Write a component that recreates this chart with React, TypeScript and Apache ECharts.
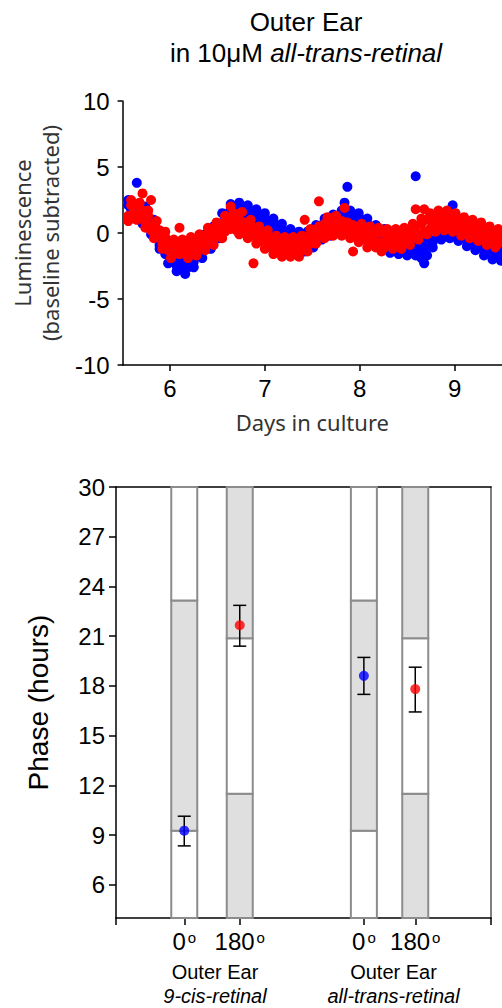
import React, { useEffect, useRef } from "react";
import * as echarts from "echarts";

// ---------- Top panel data (luminescence traces) ----------
const days = [
  5.56, 5.59, 5.62, 5.65, 5.68, 5.71, 5.74, 5.77, 5.8, 5.83,
  5.86, 5.89, 5.92, 5.95, 5.98, 6.01, 6.04, 6.07, 6.1, 6.13,
  6.16, 6.19, 6.22, 6.25, 6.28, 6.31, 6.34, 6.37, 6.4, 6.43,
  6.46, 6.49, 6.52, 6.55, 6.58, 6.61, 6.64, 6.67, 6.7, 6.73,
  6.76, 6.79, 6.82, 6.85, 6.88, 6.91, 6.94, 6.97, 7.0, 7.03,
  7.06, 7.09, 7.12, 7.15, 7.18, 7.21, 7.24, 7.27, 7.3, 7.33,
  7.36, 7.39, 7.42, 7.45, 7.48, 7.51, 7.54, 7.57, 7.6, 7.63,
  7.66, 7.69, 7.72, 7.75, 7.78, 7.81, 7.84, 7.87, 7.9, 7.93,
  7.96, 7.99, 8.02, 8.05, 8.08, 8.11, 8.14, 8.17, 8.2, 8.23,
  8.26, 8.29, 8.32, 8.35, 8.38, 8.41, 8.44, 8.47, 8.5, 8.53,
  8.56, 8.59, 8.62, 8.65, 8.68, 8.71, 8.74, 8.77, 8.8, 8.83,
  8.86, 8.89, 8.92, 8.95, 8.98, 9.01, 9.04, 9.07, 9.1, 9.13,
  9.16, 9.19, 9.22, 9.25, 9.28, 9.31, 9.34, 9.37, 9.4, 9.43,
  9.46, 9.49,
];
// two overlapping readouts per time point for each condition
const blueLumA = [
  2.5, 1.8, 1.1, 3.8, 1.6, 0.7, 2.0, 1.0, -0.1, 1.0,
  -0.1, -1.2, -0.1, -1.3, -2.3, -1.1, -2.1, -2.9, -1.5, -2.4,
  -3.1, -1.5, -2.1, -2.6, -0.9, -1.4, -1.9, -0.1, -0.7, -1.2,
  0.5, 0.0, -0.4, 1.5, 1.0, 0.5, 2.2, 1.5, 0.8, 2.3,
  1.5, 0.7, 2.1, 1.2, 0.4, 1.8, 0.9, 0.1, 1.5, 0.5,
  -0.3, 1.1, 0.2, -0.6, 0.7, -0.3, -1.1, 0.3, -0.6, -1.4,
  0.1, -0.7, -1.4, 0.1, -0.6, -1.1, 0.6, 0.0, -0.5, 1.1,
  0.4, -0.2, 1.4, 0.7, 0.1, 1.7, 2.3, 3.5, 1.7, 0.8,
  0.1, 1.5, 0.6, -0.2, 1.1, 0.1, -0.8, 0.6, -0.4, -1.2,
  0.3, -0.7, -1.5, -0.1, -0.9, -1.6, -0.1, -1.0, -1.7, -0.3,
  -1.2, 4.3, -0.7, -1.6, -2.3, -0.6, -0.9, -1.1, 0.7, 0.1,
  -0.5, 1.1, 0.3, -0.4, 2.1, 0.2, -0.6, 0.8, -0.1, -1.0,
  0.5, -0.5, -1.3, 0.1, -0.8, -1.7, -0.3, -1.2, -2.0, -0.6,
  -1.4, -2.1,
];
const blueLumB = [
  2.1, 1.5, 2.2, 1.5, 2.0, 1.0, 1.6, 0.7, 1.0, -0.1,
  0.3, -0.9, -0.5, -1.6, -1.2, -2.2, -1.7, -2.5, -1.9, -2.7,
  -2.0, -2.6, -1.7, -2.2, -1.3, -1.7, -0.8, -1.2, -0.3, -0.8,
  0.1, -0.3, 0.7, 0.3, 1.4, 0.8, 1.8, 1.1, 1.9, 1.1,
  1.9, 1.0, 1.7, 0.8, 1.5, 0.6, 1.3, 0.4, 1.1, 0.1,
  0.8, -0.1, 0.6, -0.2, 0.3, -0.6, 0.0, -0.8, -0.2, -1.0,
  -0.3, -1.0, -0.3, -1.0, -0.2, -0.7, 0.2, -0.3, 0.6, 0.0,
  0.8, 0.1, 1.0, 0.3, 1.2, 0.5, 1.3, 0.5, 1.3, 0.4,
  1.2, 0.3, 1.0, 0.1, 0.7, -0.2, 0.3, -0.5, 0.0, -0.8,
  -0.1, -1.0, -0.4, -1.2, -0.5, -1.2, -0.5, -1.3, -0.6, -1.4,
  -0.8, -1.7, -1.1, -1.9, -1.2, -1.7, -0.5, -0.7, 0.3, -0.2,
  0.6, -0.1, 0.7, 0.0, 0.6, -0.1, 0.5, -0.3, 0.3, -0.6,
  0.1, -0.8, -0.2, -1.0, -0.4, -1.3, -0.7, -1.5, -0.9, -1.7,
  -1.0, -1.7,
];
const redLumA = [
  0.9, 2.5, 1.7, 1.0, 2.3, 3.0, 0.4, 1.7, 2.5, -0.4,
  0.9, -0.2, -1.2, 0.1, -1.0, -1.9, -0.5, -1.3, 0.4, -0.5,
  -1.3, -1.9, -0.3, -1.1, -1.7, -0.1, -0.8, -1.3, 0.4, -0.3,
  -0.9, 0.8, 0.2, -0.4, 1.3, 0.6, 2.0, 1.5, 0.6, -0.1,
  1.6, 0.4, -0.4, 1.0, -2.3, -0.8, 0.5, -0.4, -1.2, 0.2,
  -0.7, -1.6, -0.2, -1.0, -1.8, -0.3, -1.1, -1.8, -0.3, -1.1,
  -1.8, -0.2, 1.0, -1.4, 0.3, -0.3, -0.8, 2.4, 0.2, -0.4,
  1.2, 0.5, -0.2, 1.3, 0.5, -0.2, 1.9, 0.4, -0.4, -1.4,
  0.1, -0.7, 0.7, -0.2, -1.1, 0.5, -0.4, -1.1, 0.4, -1.4,
  -1.1, 0.3, -0.5, -1.2, 0.3, -0.5, -1.2, 0.4, -0.3, -0.9,
  0.7, 1.8, -0.5, 1.1, 1.8, -0.1, 1.5, 0.8, 0.1, 1.7,
  0.9, 0.2, 1.7, 0.9, 0.1, 1.5, 0.6, -0.2, 1.2, 0.4,
  -0.4, 1.0, 0.2, -0.6, 0.8, -0.1, -0.9, 0.5, -0.4, -1.1,
  0.3, -0.5,
];
const redLumB = [
  1.3, 2.1, 1.4, 2.1, 1.2, 1.7, 0.8, 1.3, 0.2, 0.7,
  -0.2, 0.2, -0.8, -0.3, -1.3, -0.8, -1.6, -0.9, -1.6, -0.9,
  -1.6, -0.8, -1.4, -0.7, -1.3, -0.5, -1.1, -0.2, -0.7, 0.1,
  -0.5, 0.4, -0.1, 0.7, 0.1, 1.0, 0.3, 1.1, 0.2, 1.0,
  0.1, 0.8, 0.0, 0.6, -0.2, 0.3, -0.6, 0.0, -0.8, -0.2,
  -1.0, -0.5, -1.3, -0.6, -1.4, -0.7, -1.4, -0.7, -1.4, -0.7,
  -1.4, -0.6, -1.2, -0.3, -0.8, 0.1, -0.4, 0.5, -0.1, 0.7,
  0.0, 0.9, 0.1, 0.9, 0.1, 0.9, 0.1, 0.8, 0.0, 0.6,
  -0.2, 0.4, -0.4, 0.2, -0.6, 0.1, -0.7, 0.0, -0.7, 0.0,
  -0.7, -0.1, -0.8, -0.1, -0.8, -0.1, -0.8, 0.0, -0.6, 0.2,
  -0.4, 0.5, -0.1, 0.7, 0.1, 1.0, 0.3, 1.2, 0.4, 1.3,
  0.5, 1.3, 0.5, 1.3, 0.4, 1.1, 0.2, 0.9, 0.0, 0.8,
  -0.1, 0.6, -0.2, 0.5, -0.3, 0.3, -0.5, 0.1, -0.7, 0.0,
  -0.8, -0.1,
];
const dayTicks = [6, 7, 8, 9];

// ---------- Bottom panel data (phase) ----------
const phaseTicks = [6, 9, 12, 15, 18, 21, 24, 27, 30];
const angleLabels = ["0", "180", "0", "180"];
const groupNames = ["Outer Ear", "Outer Ear"];
const groupRetinal = ["9-cis-retinal", "all-trans-retinal"];
const phaseMean = [9.27, 21.66, 18.61, 17.81];
const phaseLow = [8.35, 20.4, 17.49, 16.43];
const phaseHigh = [10.14, 22.86, 19.72, 19.13];
const pointColors = ["#0000ff", "#ff0000", "#0000ff", "#ff0000"];
// light/dark segments of each column: [from, to, shaded(1) / unshaded(0)]
const columnSegments = [
  [[4, 9.27, 0], [9.27, 23.16, 1], [23.16, 30, 0]],
  [[4, 11.5, 1], [11.5, 20.88, 0], [20.88, 30, 1]],
  [[4, 9.27, 0], [9.27, 23.16, 1], [23.16, 30, 0]],
  [[4, 11.5, 1], [11.5, 20.88, 0], [20.88, 30, 1]],
];

// ---------- layout (not data) ----------
const colPos = [18.2, 33.0, 66.1, 79.8];
const groupPos = [26.4, 74.0];
const COL_W = 26;
const ARIAL = "'Liberation Sans', Arial, sans-serif";
const HUMANIST = "'Noto Sans', 'Open Sans', sans-serif";

export default function App() {
  const ref = useRef<HTMLDivElement>(null);
  useEffect(() => {
    if (!ref.current) return;
    const chart = echarts.init(ref.current, null, { renderer: "svg" });

    const blueData = [
      ...days.map((d, i) => [d, blueLumA[i]]),
      ...days.map((d, i) => [d, blueLumB[i]]),
    ];
    const redData = [
      ...days.map((d, i) => [d, redLumA[i]]),
      ...days.map((d, i) => [d, redLumB[i]]),
    ];

    const segData: any[] = [];
    columnSegments.forEach((segs, ci) => {
      segs.forEach((s) => segData.push([colPos[ci], s[0], s[1], s[2]]));
    });
    const errData = colPos.map((x, i) => [x, phaseLow[i], phaseHigh[i]]);
    const meanData = colPos.map((x, i) => ({
      value: [x, phaseMean[i]],
      itemStyle: { color: pointColors[i] },
    }));

    const option: any = {
      animation: false,
      backgroundColor: "#fff",
      title: {
        text: "Outer Ear\nin 10\u03bcM {i|all-trans-retinal}",
        left: 301,
        top: 1,
        textAlign: "center",
        textStyle: {
          fontFamily: ARIAL,
          fontSize: 26,
          fontWeight: "normal",
          color: "#000",
          lineHeight: 31,
          rich: {
            i: { fontFamily: ARIAL, fontSize: 26, fontStyle: "italic", color: "#000", lineHeight: 31 },
          },
        },
      },
      grid: [
        { left: 122, top: 101, width: 380, height: 264 },
        { left: 116, top: 487, width: 375, height: 432 },
      ],
      xAxis: [
        {
          gridIndex: 0,
          type: "value",
          min: 5.5,
          max: 9.5,
          name: "Days in culture",
          nameLocation: "middle",
          nameGap: 46,
          nameTextStyle: { fontFamily: HUMANIST, fontSize: 22, color: "#333" },
          axisLine: { onZero: false, lineStyle: { color: "#000", width: 1.5 } },
          axisTick: { customValues: dayTicks, length: 6, lineStyle: { color: "#000", width: 1.5 } },
          axisLabel: { customValues: dayTicks, margin: 11, fontFamily: ARIAL, fontSize: 24, color: "#000" },
          splitLine: { show: false },
        },
        {
          gridIndex: 1,
          type: "value",
          min: 0,
          max: 100,
          position: "bottom",
          axisLine: { onZero: false, lineStyle: { color: "#000", width: 1.5 } },
          axisTick: { customValues: [0, ...colPos, 100], length: 7, lineStyle: { color: "#000", width: 1.5 } },
          axisLabel: {
            customValues: colPos,
            margin: 11,
            fontFamily: ARIAL,
            fontSize: 24,
            color: "#000",
            formatter: (v: number) => {
              const i = colPos.indexOf(v);
              return i < 0 ? "" : angleLabels[i] + "{d|o}";
            },
            rich: {
              d: { fontFamily: ARIAL, fontSize: 15, color: "#000", verticalAlign: "top", padding: [1, 0, 0, 2] },
            },
          },
          splitLine: { show: false },
        },
        {
          gridIndex: 1,
          type: "value",
          min: 0,
          max: 100,
          position: "top",
          axisLine: { onZero: false, lineStyle: { color: "#000", width: 1.5 } },
          axisTick: { show: false },
          axisLabel: { show: false },
          splitLine: { show: false },
        },
        {
          gridIndex: 1,
          type: "value",
          min: 0,
          max: 100,
          position: "bottom",
          axisLine: { show: false, onZero: false },
          axisTick: { show: false },
          axisLabel: {
            customValues: groupPos,
            margin: 42,
            fontFamily: ARIAL,
            fontSize: 20,
            lineHeight: 24,
            color: "#000",
            formatter: (v: number) => {
              const i = groupPos.indexOf(v);
              return i < 0 ? "" : groupNames[i] + "\n{i|" + groupRetinal[i] + "}";
            },
            rich: {
              i: { fontFamily: ARIAL, fontSize: 20, lineHeight: 24, fontStyle: "italic", color: "#000" },
            },
          },
          splitLine: { show: false },
        },
      ],
      yAxis: [
        {
          gridIndex: 0,
          type: "value",
          min: -10,
          max: 10,
          interval: 5,
          name: "Luminescence\n(baseline subtracted)",
          nameLocation: "middle",
          nameGap: 58,
          nameTextStyle: { fontFamily: HUMANIST, fontSize: 22, color: "#333", lineHeight: 28 },
          axisLine: { show: true, onZero: false, lineStyle: { color: "#000", width: 1.5 } },
          axisTick: { show: true, length: 5, lineStyle: { color: "#000", width: 1.5 } },
          axisLabel: { margin: 13, fontFamily: ARIAL, fontSize: 24, color: "#000" },
          splitLine: { show: false },
        },
        {
          gridIndex: 1,
          type: "value",
          min: 4,
          max: 30,
          name: "Phase (hours)",
          nameLocation: "middle",
          nameGap: 64,
          nameTextStyle: { fontFamily: ARIAL, fontSize: 28, color: "#000" },
          axisLine: { show: true, onZero: false, lineStyle: { color: "#000", width: 1.5 } },
          axisTick: { show: true, customValues: phaseTicks, length: 7, lineStyle: { color: "#000", width: 1.5 } },
          axisLabel: { customValues: phaseTicks, margin: 11, fontFamily: ARIAL, fontSize: 24, color: "#000" },
          splitLine: { show: false },
        },
        {
          gridIndex: 1,
          type: "value",
          min: 4,
          max: 30,
          position: "right",
          axisLine: { show: true, onZero: false, lineStyle: { color: "#555", width: 1.5 } },
          axisTick: { show: false },
          axisLabel: { show: false },
          splitLine: { show: false },
        },
      ],
      series: [
        {
          type: "scatter",
          xAxisIndex: 0,
          yAxisIndex: 0,
          data: blueData,
          symbolSize: 10,
          itemStyle: { color: "#0000ff", opacity: 1 },
          silent: true,
        },
        {
          type: "scatter",
          xAxisIndex: 0,
          yAxisIndex: 0,
          data: redData,
          symbolSize: 10,
          itemStyle: { color: "#ff0000", opacity: 1 },
          silent: true,
        },
        {
          type: "custom",
          xAxisIndex: 1,
          yAxisIndex: 1,
          data: segData,
          encode: { x: 0, y: [1, 2] },
          renderItem: (params: any, api: any) => {
            const x = api.value(0);
            const top = api.coord([x, api.value(2)]);
            const bot = api.coord([x, api.value(1)]);
            return {
              type: "rect",
              shape: { x: top[0] - COL_W / 2, y: top[1], width: COL_W, height: bot[1] - top[1] },
              style: { fill: api.value(3) ? "#e0dfe0" : "#ffffff", stroke: "#8c8c8c", lineWidth: 2 },
            };
          },
          silent: true,
        },
        {
          type: "custom",
          xAxisIndex: 1,
          yAxisIndex: 1,
          data: errData,
          encode: { x: 0, y: [1, 2] },
          renderItem: (params: any, api: any) => {
            const x = api.value(0);
            const lo = api.coord([x, api.value(1)]);
            const hi = api.coord([x, api.value(2)]);
            const cap = 6.5;
            const ls = { stroke: "#000", lineWidth: 1.5 };
            return {
              type: "group",
              children: [
                { type: "line", shape: { x1: lo[0], y1: lo[1], x2: hi[0], y2: hi[1] }, style: ls },
                { type: "line", shape: { x1: lo[0] - cap, y1: lo[1], x2: lo[0] + cap, y2: lo[1] }, style: ls },
                { type: "line", shape: { x1: hi[0] - cap, y1: hi[1], x2: hi[0] + cap, y2: hi[1] }, style: ls },
              ],
            };
          },
          silent: true,
        },
        {
          type: "scatter",
          xAxisIndex: 1,
          yAxisIndex: 1,
          data: meanData,
          symbolSize: 10,
          silent: true,
        },
      ],
    };
    chart.setOption(option);
    return () => chart.dispose();
  }, []);
  return (
    <div
      ref={ref}
      style={{ position: "absolute", left: 0, top: 0, width: 502, height: 1008, background: "#fff" }}
    />
  );
}
